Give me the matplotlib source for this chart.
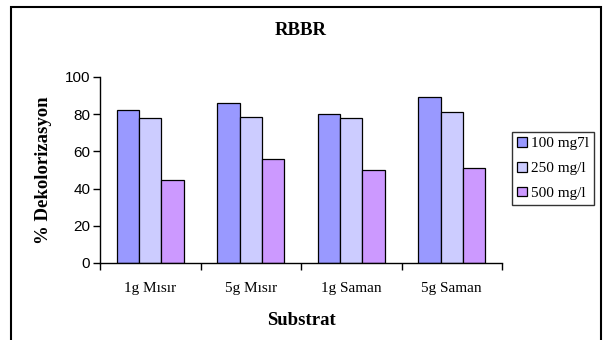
import matplotlib
matplotlib.use("Agg")
import matplotlib.pyplot as plt
from matplotlib.patches import Rectangle
import numpy as np

substrates = ["1g Mısır", "5g Mısır", "1g Saman", "5g Saman"]
series_names = ["100 mg7l", "250 mg/l", "500 mg/l"]
v100 = [82, 86, 80, 89]
v250 = [78, 78.5, 78, 81]
v500 = [44.5, 56, 50, 51]
colors = ["#9999FF", "#CCCCFF", "#CC99FF"]

serif = "Liberation Serif"
sans = "Liberation Sans"

fig = plt.figure(figsize=(6.07, 3.40), dpi=100)
W, H = 607, 340
ax = fig.add_axes([100 / W, (H - 263) / H, 402 / W, 186 / H])

x = np.arange(len(substrates)) + 0.5
bw = 1 / 4.5
for i, (vals, name, c) in enumerate(zip([v100, v250, v500], series_names, colors)):
    ax.bar(x + (i - 1) * bw, vals, width=bw, color=c, edgecolor="black",
           linewidth=0.9, label=name)

ax.set_xlim(0, 4)
ax.set_ylim(0, 100)
ax.set_yticks(range(0, 101, 20))
ax.set_xticks(range(0, 5))
ax.set_xticklabels([])
ax.set_xticks(x, minor=True)
ax.set_xticklabels(substrates, minor=True, fontfamily=serif, fontsize=11)
ax.tick_params(axis="x", which="minor", length=0, pad=14)
ax.tick_params(axis="x", which="major", length=5, width=1)
ax.tick_params(axis="y", length=5, width=1, labelsize=11, pad=2)
for lab in ax.get_yticklabels():
    lab.set_fontfamily(sans)
for s in ["top", "right"]:
    ax.spines[s].set_visible(False)
ax.spines["left"].set_linewidth(1)
ax.spines["bottom"].set_linewidth(1)

ax.set_title("RBBR", fontfamily=serif, fontweight="bold", fontsize=13.5, pad=30)
ax.set_ylabel("% Dekolorizasyon", fontfamily=serif, fontweight="bold", fontsize=13.5, labelpad=9)
ax.set_xlabel("Substrat", fontfamily=serif, fontweight="bold", fontsize=13.5, labelpad=12)

leg = fig.legend(loc="center left", bbox_to_anchor=(512 / W, (H - 168.5) / H),
                 prop={"family": serif, "size": 11}, frameon=True, fancybox=False,
                 edgecolor="black", handlelength=0.6, handleheight=0.6,
                 handletextpad=0.3, labelspacing=0.75, borderpad=0.35, borderaxespad=0)
leg.get_frame().set_linewidth(1)

fig.patches.append(Rectangle((10.5 / W, -0.05), 590 / W, (H - 7) / H + 0.05,
                             transform=fig.transFigure, fill=False,
                             edgecolor="black", linewidth=1.5))

fig.savefig("out.png", dpi=100)
